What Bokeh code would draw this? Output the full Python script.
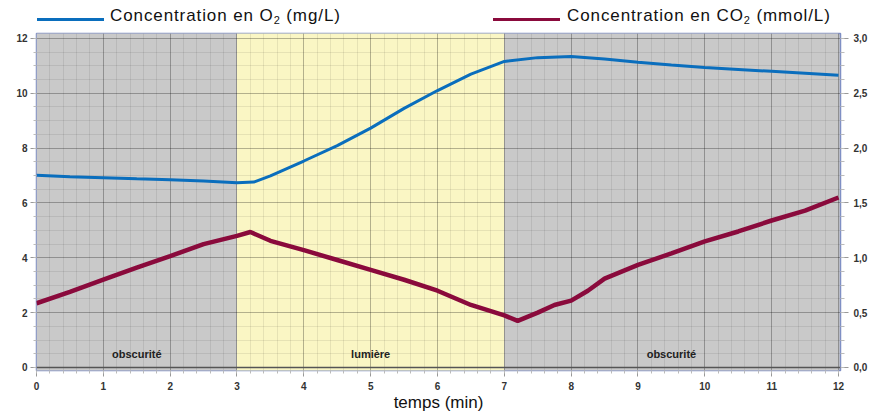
from bokeh.plotting import figure
from bokeh.models import (Range1d, LinearAxis, FixedTicker, Span, CustomJSTickFormatter,
                          ColumnDataSource, Div)
from bokeh.layouts import column
from bokeh.core.properties import value
from bokeh.embed import file_html
from bokeh.resources import INLINE

# ---- data ----
t_o2 = [0, 0.5, 1, 1.5, 2, 2.5, 3, 3.25, 3.5, 4, 4.5, 5, 5.5, 6, 6.5, 7, 7.5, 8, 8.5, 9, 9.5, 10, 10.5, 11, 11.5, 12]
o2 = [7.01, 6.96, 6.92, 6.88, 6.85, 6.80, 6.74, 6.76, 6.99, 7.53, 8.09, 8.73, 9.45, 10.10, 10.70, 11.16, 11.30,
      11.34, 11.25, 11.13, 11.03, 10.94, 10.87, 10.80, 10.73, 10.66]

t_co2 = [0, 0.5, 1, 1.5, 2, 2.5, 3, 3.2, 3.5, 4, 4.5, 5, 5.5, 6, 6.5, 7, 7.2, 7.5, 7.75, 8, 8.25, 8.5, 9, 9.5,
         10, 10.5, 11, 11.5, 12]
co2 = [0.585, 0.69, 0.80, 0.91, 1.015, 1.125, 1.20, 1.235, 1.155, 1.07, 0.98, 0.89, 0.80, 0.70, 0.57, 0.475,
       0.425, 0.50, 0.57, 0.61, 0.70, 0.81, 0.935, 1.04, 1.15, 1.24, 1.34, 1.43, 1.55]

phase_start = [0, 3, 7]
phase_end = [3, 7, 12]
phase_label = ["obscurité", "lumière", "obscurité"]
phase_color = ["#C9C9C9", "#FAF6C4", "#C9C9C9"]

x_ticks = list(range(0, 13))
y_ticks = [0, 2, 4, 6, 8, 10, 12]
y2_ticks = [0.0, 0.5, 1.0, 1.5, 2.0, 2.5, 3.0]

legend_names = [("O", "2", "(mg/L)"), ("CO", "2", "(mmol/L)")]
O2_COLOR = "#0A6EBD"
CO2_COLOR = "#8A0A3C"
FONT = "Liberation Sans"

X0, X1 = 0, 12.03
Y0, Y1 = -0.11, 12.18
HEAD = 30

# ---- legend strip (HTML) ----
items = []
for (lx, tx), (mol, sub, unit), col in zip([(37, 110), (493, 567)], legend_names, [O2_COLOR, CO2_COLOR]):
    items.append(
        f'<div style="position:absolute;left:{lx}px;top:18px;width:67px;height:3px;background:{col};"></div>'
        f'<span style="position:absolute;left:{tx}px;top:6px;font-size:17px;line-height:20px;'
        f'letter-spacing:0.9px;color:#111;white-space:nowrap;">Concentration en {mol}'
        f'<span style="font-size:11px;position:relative;top:3px;">{sub}</span> {unit}</span>'
    )
html = (f'<div style="position:relative;width:889px;height:{HEAD}px;font-family:\'{FONT}\';">'
        + "".join(items) + "</div>")
leg = Div(text=html, width=889, height=HEAD, margin=0)

# ---- main chart ----
p = figure(width=889, height=414 - HEAD, x_range=Range1d(X0, X1), y_range=Range1d(Y0, Y1),
           output_backend="svg", toolbar_location=None, margin=0,
           min_border_left=36, min_border_right=49, min_border_top=33 - HEAD, min_border_bottom=40)
p.background_fill_color = "#C9C9C9"
p.border_fill_color = "white"
p.outline_line_color = "#7F8FC4"
p.outline_line_width = 1.5

p.extra_y_ranges = {"co2": Range1d(Y0 / 4, Y1 / 4)}

src_phase = ColumnDataSource(dict(left=phase_start, right=phase_end, color=phase_color))
p.quad(left="left", right="right", bottom=-1, top=13, fill_color="color", line_color=None,
       source=src_phase, level="image")

# axes / ticks
p.xaxis.ticker = FixedTicker(ticks=x_ticks, minor_ticks=[i / 5 for i in range(0, 61)])
p.yaxis.ticker = FixedTicker(ticks=y_ticks, minor_ticks=[i / 2 for i in range(0, 25)])
for ax in (p.xaxis[0], p.yaxis[0]):
    ax.axis_line_color = None
    ax.major_tick_line_color = "#999999"
    ax.minor_tick_line_color = "#BBBBBB"
    ax.major_tick_out = 6
    ax.major_tick_in = 0
    ax.minor_tick_out = 3
    ax.minor_tick_in = 0
    ax.major_label_text_font = FONT
    ax.major_label_text_font_style = "bold"
    ax.major_label_text_font_size = "10px"
    ax.major_label_text_color = "#333333"
    ax.major_label_standoff = 3
p.xaxis.major_label_standoff = 5
p.xaxis.axis_label = "temps (min)"
p.xaxis.axis_label_text_font = FONT
p.xaxis.axis_label_text_font_style = "normal"
p.xaxis.axis_label_text_font_size = "17px"
p.xaxis.axis_label_text_color = "#111111"
p.xaxis.axis_label_standoff = 0

ax2 = LinearAxis(y_range_name="co2",
                 ticker=FixedTicker(ticks=y2_ticks, minor_ticks=[i / 8 for i in range(0, 25)]),
                 formatter=CustomJSTickFormatter(code="return tick.toFixed(1).replace('.', ',');"))
ax2.axis_line_color = None
ax2.major_tick_line_color = "#999999"
ax2.minor_tick_line_color = "#BBBBBB"
ax2.major_tick_out = 8
ax2.major_tick_in = 0
ax2.minor_tick_out = 4
ax2.minor_tick_in = 0
ax2.major_label_text_font = FONT
ax2.major_label_text_font_style = "bold"
ax2.major_label_text_font_size = "10px"
ax2.major_label_text_color = "#333333"
ax2.major_label_standoff = 5
p.add_layout(ax2, "right")

# grids
for g in (p.xgrid, p.ygrid):
    g.grid_line_color = "black"
    g.grid_line_alpha = 0.22
    g.minor_grid_line_color = "black"
    g.minor_grid_line_alpha = 0.08

p.add_layout(Span(location=0, dimension="width", line_color="#555555", line_width=1.5))

# data lines
p.line(t_o2, o2, line_color=O2_COLOR, line_width=3)
p.line(t_co2, co2, line_color=CO2_COLOR, line_width=4.5, y_range_name="co2")

# phase labels
mid = [(a + b) / 2 for a, b in zip(phase_start, phase_end)]
p.text(x=mid, y=[0.5] * 3, text=phase_label, text_font=value(FONT), text_font_style="bold",
       text_font_size="11px", text_align="center", text_baseline="middle", text_color="#222222")

layout = column(leg, p, spacing=0, margin=0)
open("out.html", "w").write(file_html(layout, INLINE))
